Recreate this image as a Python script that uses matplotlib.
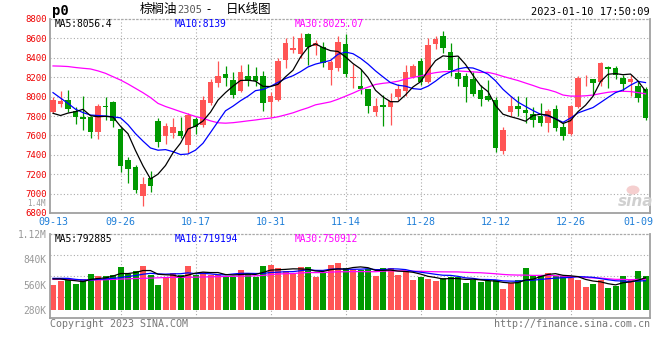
import numpy as np
import pandas as pd
import matplotlib
matplotlib.use('Agg')
import matplotlib.pyplot as plt
import matplotlib.transforms as mtrans
from matplotlib.patches import Ellipse

W, H = 660, 360

# x axis: trading days 09-13 .. 01-10
tick_idx = [0, 9, 19, 29, 39, 49, 59, 69, 78]
tick_lab = ['09-13', '09-26', '10-17', '10-31', '11-14', '11-28', '12-12', '12-26', '01-09']

opens = [7845, 7920, 7965, 7852, 7793, 7786, 7638, 7906, 7948, 7666,
         7346, 7277, 6979, 7157, 7748, 7597, 7621, 7649, 7501, 7766,
         7707, 7938, 8137, 8233, 8171, 8061, 8212, 8212, 8212, 7948,
         7965, 8377, 8481, 8439, 8645, 8522, 8515, 8274, 8298, 8542,
         8188, 8109, 8079, 7845, 7913, 7889, 7992, 8061, 8206, 8370,
         8154, 8542, 8625, 8456, 8247, 8212, 8181, 8068, 8006, 7965,
         7442, 7845, 7903, 7862, 7821, 7800, 7724, 7872, 7690, 7614,
         7896, 8178, 8178, 8154, 8309, 8298, 8188, 8147, 8109, 8078]
highs = [7993, 8058, 8068, 7896, 8006, 7800, 7924, 7999, 7958, 7690,
         7381, 7300, 7174, 7236, 7776, 7724, 7776, 7793, 7834, 7786,
         8006, 8182, 8367, 8315, 8257, 8326, 8336, 8302, 8264, 8050,
         8401, 8601, 8625, 8659, 8659, 8583, 8567, 8377, 8625, 8645,
         8333, 8281, 8079, 7982, 8016, 8034, 8130, 8326, 8336, 8401,
         8601, 8625, 8680, 8549, 8412, 8247, 8257, 8120, 8171, 7993,
         7690, 8006, 8006, 7993, 7896, 7931, 7869, 7913, 7724, 7913,
         8212, 8223, 8185, 8360, 8315, 8315, 8223, 8223, 8154, 8096]
lows = [7828, 7896, 7845, 7714, 7656, 7577, 7563, 7759, 7683, 7226,
        7113, 7009, 6876, 7020, 7484, 7511, 7570, 7577, 7422, 7611,
        7690, 7913, 8102, 8109, 7982, 8051, 8109, 8109, 7855, 7786,
        7958, 8291, 8446, 8394, 8326, 8429, 8302, 8120, 8264, 8205,
        8092, 8027, 7834, 7800, 7697, 7707, 7965, 8006, 8188, 8120,
        8144, 8487, 8446, 8216, 8109, 7948, 8006, 7903, 7958, 7432,
        7408, 7800, 7800, 7731, 7683, 7700, 7638, 7650, 7553, 7604,
        7886, 8109, 8016, 8109, 8092, 8178, 8058, 8006, 7948, 7759]
closes = [7965, 7958, 7869, 7786, 7766, 7638, 7903, 7889, 7752, 7288,
          7254, 7037, 7099, 7078, 7535, 7700, 7690, 7594, 7810, 7683,
          7965, 8147, 8216, 8195, 8016, 8257, 8161, 8164, 7931, 8006,
          8370, 8549, 8505, 8608, 8508, 8549, 8350, 8353, 8566, 8230,
          8205, 8079, 7906, 7906, 7889, 7958, 8078, 8257, 8316, 8154,
          8532, 8594, 8504, 8274, 8185, 8102, 8030, 7975, 7965, 7466,
          7656, 7903, 7872, 7834, 7759, 7724, 7855, 7680, 7597, 7903,
          8188, 8185, 8144, 8350, 8285, 8223, 8127, 8178, 7989, 7776]

# volume in thousands
volume_k = [556, 604, 623, 567, 619, 678, 656, 656, 667, 759,
            678, 711, 766, 667, 556, 648, 692, 667, 766, 667,
            703, 667, 667, 656, 648, 722, 692, 648, 766, 777,
            741, 714, 678, 759, 759, 648, 686, 777, 803, 748,
            733, 722, 733, 656, 748, 748, 667, 711, 612, 649,
            623, 601, 630, 641, 641, 579, 612, 593, 601, 612,
            512, 575, 612, 748, 656, 656, 693, 656, 656, 630,
            612, 538, 567, 612, 527, 545, 656, 612, 711, 656]

# moving-average values before enough history exists
ma5_head = [7828, 7805, 7830, 7845]
ma10_head = [8041, 7985, 7930, 7870, 7835, 7810, 7805, 7800, 7790]
ma30_head = [8316, 8314, 8310, 8300, 8292, 8285, 8265, 8240, 8205, 8171,
             8130, 8085, 8040, 7990, 7930, 7898, 7872, 7845, 7820, 7795,
             7776, 7750, 7730, 7726, 7731, 7740, 7750, 7759, 7770]
vma5_head = [623, 623, 612, 604]
vma10_head = [630, 630, 630, 619, 612, 612, 619, 623, 630]
vma30_head = [619, 619, 617, 615, 613, 612, 613, 615, 619, 622,
              625, 628, 630, 633, 636, 639, 641, 641, 642, 643,
              645, 647, 649, 651, 653, 655, 656, 658, 662]

vol_base = 275  # bars start here (K)
vol_ticks = [280e3, 560e3, 840e3, 1.12e6]
vol_tick_lab = ['280K', '560K', '840K', '1.12M']

RED = '#ff5555'
GREEN = '#009900'
GRID = '#aaaaaa'
MONO = 'DejaVu Sans Mono'
FS = 6.9


def fx(x):
    return x / W


def fy(y):
    return 1 - y / H


def moving(vals, n, head):
    m = pd.Series(vals, dtype=float).rolling(n).mean()
    m.iloc[:len(head)] = head
    return m.values


n = len(closes)
idx = np.arange(n)
o = np.array(opens, float)
c = np.array(closes, float)
up = c >= o
cols = [RED if u else GREEN for u in up]

ma5 = moving(closes, 5, ma5_head)
ma10 = moving(closes, 10, ma10_head)
ma30 = moving(closes, 30, ma30_head)
vol = np.array(volume_k, float) * 1000
vma5 = moving(vol, 5, np.array(vma5_head) * 1000)
vma10 = moving(vol, 10, np.array(vma10_head) * 1000)
vma30 = moving(vol, 30, np.array(vma30_head) * 1000)

fig = plt.figure(figsize=(6.6, 3.6), dpi=100)
fig.patch.set_facecolor('white')

ax = fig.add_axes([fx(50), fy(213), 600 / W, 194 / H])
axv = fig.add_axes([fx(50), fy(318), 600 / W, 84 / H])

for a in (ax, axv):
    a.set_xlim(-0.4, 79.6)
    for s in ('left', 'right', 'bottom'):
        a.spines[s].set_color('#a0a0a0')
        a.spines[s].set_linewidth(1.3)
    a.spines['top'].set_color(GRID)
    a.spines['top'].set_linestyle((0, (1, 2)))
    a.spines['top'].set_linewidth(0.9)
    for t in tick_idx[1:-1]:
        a.axvline(t, color=GRID, lw=0.8, ls=(0, (1, 2)), zorder=0)

# price panel
ax.set_ylim(6800, 8800)
ax.set_yticks(range(6800, 8801, 200))
ax.set_yticklabels([str(v) for v in range(6800, 8801, 200)],
                   color='#ee0000', fontsize=6.5, family=MONO)
lift = mtrans.ScaledTranslation(0, 0.015, fig.dpi_scale_trans)
for lab in ax.get_yticklabels():
    lab.set_transform(lab.get_transform() + lift)
for v in range(7000, 8800, 200):
    ax.axhline(v, color=GRID, lw=0.8, ls=(0, (1, 2)), zorder=0)
ax.set_xticks(tick_idx)
ax.set_xticklabels(tick_lab, color='#1f7fd8', fontsize=7.2, family=MONO)
ax.tick_params(length=0, pad=2.5)
ax.tick_params(axis='x', pad=3)

ax.vlines(idx, lows, highs, colors=cols, lw=0.9, zorder=2)
body = np.maximum(np.abs(c - o), 8)
ax.bar(idx, body, bottom=np.minimum(o, c), width=0.76, color=cols,
       lw=0, zorder=3)
ax.plot(idx, ma30, color='#ff00ff', lw=0.9, zorder=4)
ax.plot(idx, ma10, color='#0000ff', lw=0.9, zorder=4)
ax.plot(idx, ma5, color='black', lw=0.9, zorder=4)

# volume panel
axv.set_ylim(192e3, 1.12e6)
axv.set_yticks(vol_ticks)
axv.set_yticklabels(vol_tick_lab, color='#999999', fontsize=FS, family=MONO)
axv.set_xticks([])
axv.tick_params(length=0, pad=2.5)
for f in (0.25, 0.5, 0.75):
    axv.plot([0, 1], [f, f], transform=axv.transAxes, color=GRID, lw=0.8,
             ls=(0, (1, 2)), zorder=0)
axv.bar(idx, vol - vol_base * 1000, bottom=vol_base * 1000, width=0.8,
        color=cols, lw=0, zorder=2)
axv.plot(idx, vma30, color='#ff00ff', lw=0.9, zorder=3)
axv.plot(idx, vma10, color='#0000ff', lw=0.9, zorder=3)
axv.plot(idx, vma5, color='black', lw=0.9, zorder=3)

# header texts
fig.text(fx(52), fy(11), 'p0', fontsize=10, fontweight='bold', family=MONO,
         va='center', ha='left')
cjk = ['Noto Sans CJK SC', 'DejaVu Sans']
fig.text(fx(140), fy(10), '棕榈油', fontsize=9, family=cjk, va='center')
fig.text(fx(177), fy(10), '2305', fontsize=7.5, family=MONO, color='#555555',
         va='center')
fig.text(fx(206), fy(10), '-', fontsize=8.5, family=cjk, va='center')
fig.text(fx(226), fy(10), '日K线图', fontsize=9, family=cjk, va='center')
fig.text(fx(650), fy(12), '2023-01-10 17:50:09', fontsize=7.5, family=MONO,
         ha='right', va='center')

fig.text(fx(55), fy(24), 'MA5:8056.4', fontsize=FS, family=MONO,
         color='black', va='center')
fig.text(fx(175), fy(24), 'MA10:8139', fontsize=FS, family=MONO,
         color='#0000ff', va='center')
fig.text(fx(295), fy(24), 'MA30:8025.07', fontsize=FS, family=MONO,
         color='#ff00ff', va='center')

fig.text(fx(55), fy(239), 'MA5:792885', fontsize=FS, family=MONO,
         color='black', va='center')
fig.text(fx(175), fy(239), 'MA10:719194', fontsize=FS, family=MONO,
         color='#0000ff', va='center')
fig.text(fx(295), fy(239), 'MA30:750912', fontsize=FS, family=MONO,
         color='#ff00ff', va='center')

fig.text(fx(46), fy(203.5), '1.4M', fontsize=5.5, family=MONO,
         color='#999999', ha='right', va='center')

# footer
fig.text(fx(50), fy(324), 'Copyright 2023 SINA.COM', fontsize=7.2,
         family=MONO, color='#777777', va='center')
fig.text(fx(650), fy(324), 'http://finance.sina.com.cn', fontsize=7.2,
         family=MONO, color='#777777', va='center', ha='right')

# sina watermark
fig.patches.append(Ellipse((fx(633), fy(190)), 13 / W, 9 / H,
                           transform=fig.transFigure, facecolor='#f3c4c4',
                           edgecolor='none', alpha=0.8))
fig.text(fx(636), fy(201), 'sina', fontsize=11, fontweight='bold',
         style='italic', color='#d0d0d0', ha='center', va='center')

fig.savefig('out.png', dpi=100, facecolor='white')
